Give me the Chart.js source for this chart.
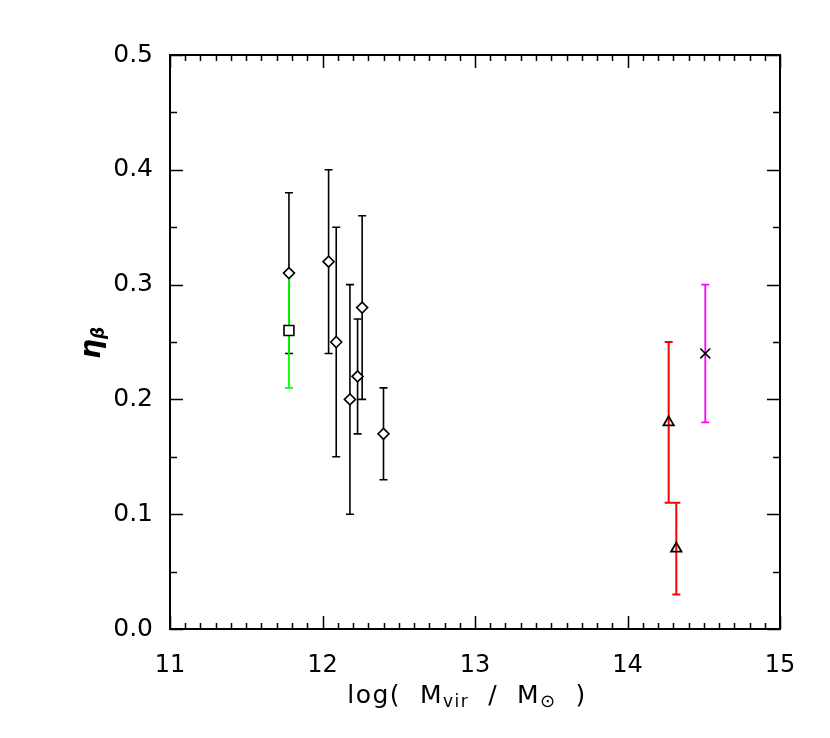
<!DOCTYPE html>
<html><head><meta charset="utf-8">
<script src="https://cdn.jsdelivr.net/npm/chart.js@4"></script>
<style>html,body{margin:0;padding:0;background:#fff}canvas{display:block}</style>
</head><body>
<canvas id="c" width="830" height="738"></canvas>
<script>
// ---- data ----
const diamondX  = [11.78, 12.04, 12.09, 12.18, 12.23, 12.26, 12.40];
const diamondY  = [0.31, 0.32, 0.25, 0.20, 0.22, 0.28, 0.17];
const diamondLo = [0.24, 0.24, 0.15, 0.10, 0.17, 0.20, 0.13];
const diamondHi = [0.38, 0.40, 0.35, 0.30, 0.27, 0.36, 0.21];

const squareX  = [11.78];
const squareY  = [0.26];
const squareLo = [0.21];
const squareHi = [0.31];

const triangleX  = [14.27, 14.32];
const triangleY  = [0.18, 0.07];
const triangleLo = [0.11, 0.03];
const triangleHi = [0.25, 0.11];

const crossX  = [14.51];
const crossY  = [0.24];
const crossLo = [0.18];
const crossHi = [0.30];

const xTickLabels = ['11', '12', '13', '14', '15'];
const yTickLabels = ['0.0', '0.1', '0.2', '0.3', '0.4', '0.5'];

function pts(xs, ys) { return xs.map((x, i) => ({ x: x, y: ys[i] })); }

Chart.defaults.font.family = 'DejaVu Sans';
Chart.defaults.color = '#000';

const errorBars = {
  id: 'errorBars',
  beforeDatasetsDraw(chart) {
    const { ctx, scales: { x, y } } = chart;
    chart.data.datasets.forEach(ds => {
      ctx.save();
      ctx.strokeStyle = ds.barColor;
      ctx.lineWidth = ds.barWidth;
      ds.data.forEach((p, i) => {
        const px = x.getPixelForValue(p.x);
        const lo = y.getPixelForValue(ds.lo[i]);
        const hi = y.getPixelForValue(ds.hi[i]);
        ctx.beginPath();
        ctx.moveTo(px, lo); ctx.lineTo(px, hi);
        ctx.moveTo(px - 4, lo); ctx.lineTo(px + 4, lo);
        ctx.moveTo(px - 4, hi); ctx.lineTo(px + 4, hi);
        ctx.stroke();
      });
      ctx.restore();
    });
  }
};

const frame = {
  id: 'frame',
  afterDraw(chart) {
    const { ctx, chartArea: a, scales: { x, y } } = chart;
    ctx.save();
    ctx.strokeStyle = '#000';
    ctx.lineWidth = 1.5;
    ctx.beginPath();
    for (let k = 0; k <= 40; k++) {
      const px = Math.round(x.getPixelForValue(11 + k * 0.1)) + 0.5;
      const len = (k % 10 === 0) ? 13 : 6;
      ctx.moveTo(px, a.bottom); ctx.lineTo(px, a.bottom - len);
      ctx.moveTo(px, a.top); ctx.lineTo(px, a.top + len);
    }
    for (let k = 0; k <= 10; k++) {
      const py = Math.round(y.getPixelForValue(k * 0.05)) + 0.5;
      const len = (k % 2 === 0) ? 13 : 7;
      ctx.moveTo(a.left, py); ctx.lineTo(a.left + len, py);
      ctx.moveTo(a.right, py); ctx.lineTo(a.right - len, py);
    }
    ctx.stroke();
    ctx.lineWidth = 2;
    ctx.strokeRect(a.left, a.top, a.right - a.left, a.bottom - a.top);

    // x axis title with subscripts
    const pieces = [
      ['log(  M', '25px DejaVu Sans', 0],
      ['vir', '17px DejaVu Sans', 4],
      ['  /  M', '25px DejaVu Sans', 0],
      ['\u2299', '18px DejaVu Sans', 4],
      ['  )', '25px DejaVu Sans', 0]
    ];
    ctx.fillStyle = '#000';
    ctx.textBaseline = 'alphabetic';
    ctx.textAlign = 'left';
    try { ctx.letterSpacing = '1.5px'; } catch (e) {}
    let total = 0;
    pieces.forEach(p => { ctx.font = p[1]; total += ctx.measureText(p[0]).width; });
    let cx = 467 - total / 2;
    pieces.forEach(p => {
      ctx.font = p[1];
      ctx.fillText(p[0], cx, 703 + p[2]);
      cx += ctx.measureText(p[0]).width;
    });
    try { ctx.letterSpacing = '0px'; } catch (e) {}

    // y axis title eta_beta, rotated
    ctx.save();
    ctx.translate(100, 343);
    ctx.rotate(-Math.PI / 2);
    ctx.font = 'italic bold 28px DejaVu Sans';
    const w1 = ctx.measureText('\u03B7').width;
    ctx.font = 'italic bold 17px DejaVu Sans';
    const w2 = ctx.measureText('\u03B2').width;
    const start = -(w1 + w2) / 2;
    ctx.font = 'italic bold 28px DejaVu Sans';
    ctx.fillText('\u03B7', start, 0);
    ctx.font = 'italic bold 17px DejaVu Sans';
    ctx.fillText('\u03B2', start + w1, 4);
    ctx.restore();
    ctx.restore();
  }
};

new Chart(document.getElementById('c'), {
  type: 'scatter',
  data: {
    datasets: [
      { data: pts(diamondX, diamondY), lo: diamondLo, hi: diamondHi, barColor: '#000', barWidth: 1.6,
        pointStyle: 'rectRot', pointRadius: 5.5, borderColor: '#000', backgroundColor: '#fff', borderWidth: 1.6 },
      { data: pts(squareX, squareY), lo: squareLo, hi: squareHi, barColor: '#00ff00', barWidth: 1.8,
        pointStyle: 'rect', pointRadius: 7, borderColor: '#000', backgroundColor: '#fff', borderWidth: 1.6 },
      { data: pts(triangleX, triangleY), lo: triangleLo, hi: triangleHi, barColor: '#ff0000', barWidth: 2,
        pointStyle: 'triangle', pointRadius: 6, borderColor: '#000', backgroundColor: 'rgba(255,255,255,0)', borderWidth: 1.8 },
      { data: pts(crossX, crossY), lo: crossLo, hi: crossHi, barColor: '#ff00ff', barWidth: 1.8,
        pointStyle: 'crossRot', pointRadius: 7, borderColor: '#000', backgroundColor: '#000', borderWidth: 1.6 }
    ]
  },
  options: {
    responsive: false,
    animation: false,
    devicePixelRatio: 1,
    layout: { padding: { left: 0, right: 50, top: 55, bottom: 0 } },
    plugins: { legend: { display: false }, tooltip: { enabled: false } },
    scales: {
      x: {
        type: 'linear', min: 11, max: 15,
        grid: { display: false }, border: { display: false },
        ticks: {
          stepSize: 1, autoSkip: false, padding: 14, maxRotation: 0,
          font: { size: 24 }, color: '#000',
          callback: (v) => { const i = Math.round(v - 11); return (Math.abs(v - 11 - i) < 1e-6) ? xTickLabels[i] : ''; }
        },
        afterFit(s) { s.height = 109; }
      },
      y: {
        type: 'linear', min: 0, max: 0.5,
        grid: { display: false }, border: { display: false },
        ticks: {
          stepSize: 0.1, autoSkip: false, padding: 9,
          font: { size: 25 }, color: '#000',
          callback: (v) => { const i = Math.round(v * 10); return yTickLabels[i]; }
        },
        afterFit(s) { s.width = 170; }
      }
    }
  },
  plugins: [errorBars, frame]
});
</script>
</body></html>
